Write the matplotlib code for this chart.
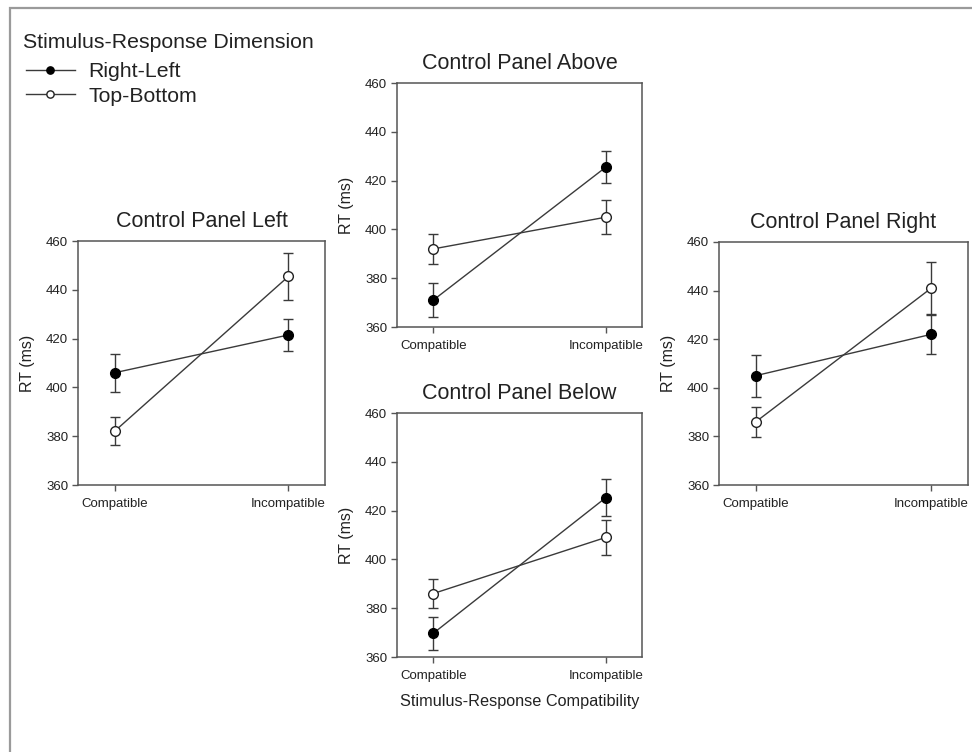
import matplotlib
matplotlib.use("Agg")
import matplotlib.pyplot as plt
from matplotlib.patches import Rectangle

plt.rcParams['font.family'] = ['Liberation Sans', 'DejaVu Sans']

conditions = ['Compatible', 'Incompatible']
series_names = ['Right-Left', 'Top-Bottom']

# mean RT and error per panel (Compatible, Incompatible)
left_rl = [406, 421.5]
left_rl_err = [7.8, 6.7]
left_tb = [382, 445.5]
left_tb_err = [5.7, 9.5]

above_rl = [371, 425.5]
above_rl_err = [7.0, 6.5]
above_tb = [392, 405]
above_tb_err = [6.0, 7.0]

below_rl = [369.7, 425.3]
below_rl_err = [6.8, 7.6]
below_tb = [386, 409]
below_tb_err = [6.1, 7.3]

right_rl = [405, 422]
right_rl_err = [8.6, 8.0]
right_tb = [386, 441]
right_tb_err = [6.3, 10.8]

line_col = '#3a3a3a'
spine_col = '#555555'

fig = plt.figure(figsize=(9.72, 7.52), dpi=100)

# outer frame (only top and left edges visible in the crop)
fig.add_artist(Rectangle((10 / 972, -0.1), 1.2, 1.1 - 8 / 752, transform=fig.transFigure,
                         fill=False, edgecolor='#9a9a9a', lw=1.6, clip_on=False))

W, H = 972, 752


def make_axes(x0, x1, top, bottom):
    return fig.add_axes([x0 / W, 1 - bottom / H, (x1 - x0) / W, (bottom - top) / H])


panels = [
    ('Control Panel Left', make_axes(78, 325, 241, 485), left_rl, left_rl_err, left_tb, left_tb_err),
    ('Control Panel Above', make_axes(397, 642, 83, 327), above_rl, above_rl_err, above_tb, above_tb_err),
    ('Control Panel Below', make_axes(397, 642, 413, 657), below_rl, below_rl_err, below_tb, below_tb_err),
    ('Control Panel Right', make_axes(719, 968, 242, 485), right_rl, right_rl_err, right_tb, right_tb_err),
]

x = [0, 1]
for title, ax, rl, rl_err, tb, tb_err in panels:
    ax.errorbar(x, rl, yerr=rl_err, color=line_col, lw=1.0, elinewidth=1.0, capsize=3.6,
                capthick=1.0, marker='o', ms=7, mfc='black', mec='black', zorder=3,
                label=series_names[0])
    ax.errorbar(x, tb, yerr=tb_err, color=line_col, lw=1.0, elinewidth=1.0, capsize=3.6,
                capthick=1.0, marker='o', ms=7, mfc='white', mec='#222222', mew=1.0, zorder=4,
                label=series_names[1])
    ax.set_xlim(-0.21, 1.21)
    ax.set_ylim(360, 460)
    ax.set_yticks(range(360, 461, 20))
    ax.set_xticks(x)
    ax.set_xticklabels(conditions)
    ax.tick_params(axis='both', direction='out', length=4, width=1, color=spine_col,
                   labelsize=9.5, labelcolor='#222222')
    ax.tick_params(axis='x', pad=5)
    ax.tick_params(axis='y', pad=3)
    for s in ax.spines.values():
        s.set_color(spine_col)
        s.set_linewidth(1.1)
    ax.set_ylabel('RT (ms)', fontsize=11.5, labelpad=8, color='#222222')
    ax.set_title(title, fontsize=15.5, pad=10, color='#222222')

panels[2][1].set_xlabel('Stimulus-Response Compatibility', fontsize=11.7, labelpad=9,
                        color='#222222')

# legend title drawn separately to get the spacing of the original
fig.text(23 / W, 1 - 42 / H, 'Stimulus-Response Dimension', fontsize=15.3,
         color='#222222', va='center', ha='left')
handles, labels = panels[0][1].get_legend_handles_labels()
handles = [h[0] for h in handles]
leg = fig.legend(handles, labels, loc='upper left', bbox_to_anchor=(26 / W, 1 - 62 / H),
                 frameon=False, fontsize=15.3, handlelength=2.3, handletextpad=0.65,
                 labelspacing=0.27, borderpad=0, borderaxespad=0, markerscale=0.75)
for t in leg.get_texts():
    t.set_color('#222222')

fig.savefig('out.png', dpi=100, facecolor='white')
